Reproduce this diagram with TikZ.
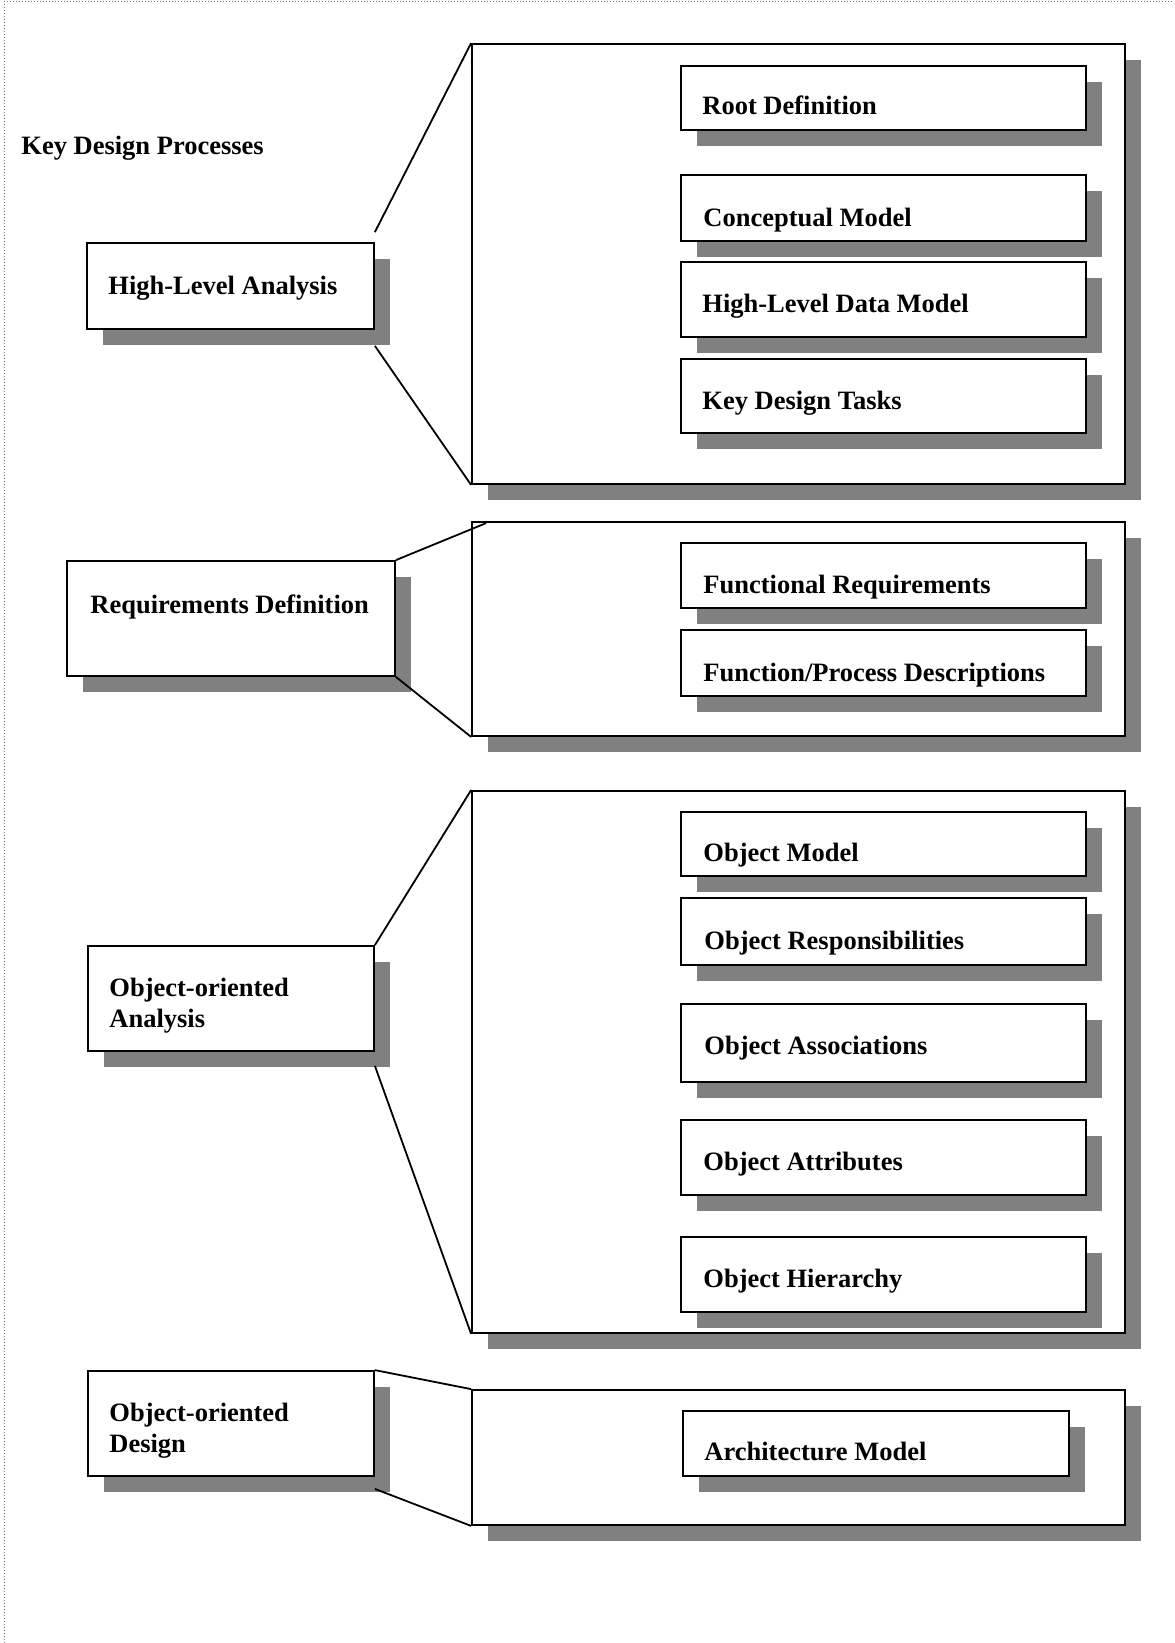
\documentclass[tikz,border=0pt]{standalone}
\usepackage{fontspec}
\setmainfont{Liberation Serif}
\usetikzlibrary{fit}

% a white box with a grey drop shadow: style, name, x1, y1, x2, y2
\newcommand\shadowed[6]{%
  \fill[shade] (#3+16,#4+16) rectangle (#5+16,#6+16);
  \node[#1, fit={(#3,#4) (#5,#6)}] (#2) {};
}
\newcommand\twolines[2]{\begin{tabular}[t]{@{}l@{}}#1\\#2\end{tabular}}

\begin{document}
\begin{tikzpicture}[x=0.5pt,y=-0.5pt,
  label text/.style={anchor=base west, inner sep=0pt,
    font=\fontsize{13.25}{15.5}\selectfont\bfseries},
  panel/.style={draw=black, line width=0.9pt, fill=white, inner sep=0pt},
  card/.style={draw=black, line width=0.9pt, fill=white, inner sep=0pt},
  shade/.style={fill=black!50},
  link/.style={draw=black, line width=0.9pt},
  frame/.style={draw=black!55, line width=0.5pt, densely dotted}]
\useasboundingbox (0,0) rectangle (1174,1643);

% page frame
\draw[frame] (4,1643) -- (4,2) -- (1174,2);

\node[label text] (title) at (21,155) {Key Design Processes};

% ---- High-Level Analysis ----
\shadowed{card}{hla}{87}{243}{374}{329}
\node[label text] (hlat) at (108,294) {High-Level Analysis};

\shadowed{panel}{p1}{472}{44}{1125}{484}
\shadowed{card}{rd}{681}{66}{1086}{130}
\node[label text] (rdt) at (702,115) {Root Definition};
\shadowed{card}{cm}{681}{175}{1086}{241}
\node[label text] (cmt) at (703,226) {Conceptual Model};
\shadowed{card}{hd}{681}{262}{1086}{337}
\node[label text] (hdt) at (702,312) {High-Level Data Model};
\shadowed{card}{kt}{681}{359}{1086}{433}
\node[label text] (ktt) at (702,409) {Key Design Tasks};

\draw[link] ([yshift=5pt]hla.north east) -- (p1.north west);
\draw[link] ([yshift=-8pt]hla.south east) -- (p1.south west);

% ---- Requirements Definition ----
\shadowed{card}{req}{67}{561}{395}{676}
\node[label text] (reqt) at (90,613) {Requirements Definition};

\shadowed{panel}{p2}{472}{522}{1125}{736}
\shadowed{card}{fr}{681}{543}{1086}{608}
\node[label text] (frt) at (703,593) {Functional Requirements};
\shadowed{card}{fp}{681}{630}{1086}{696}
\node[label text] (fpt) at (703,681) {Function/Process Descriptions};

\draw[link] (req.north east) -- ([xshift=7.5pt,yshift=-1pt]p2.north west);
\draw[link] (req.south east) -- (p2.south west);

% ---- Object-oriented Analysis ----
\shadowed{card}{ooa}{88}{946}{374}{1051}
\node[label text] (ooat) at (109,996) {\twolines{Object-oriented}{Analysis}};

\shadowed{panel}{p3}{472}{791}{1125}{1333}
\shadowed{card}{om}{681}{812}{1086}{876}
\node[label text] (omt) at (703,861) {Object Model};
\shadowed{card}{orr}{681}{898}{1086}{965}
\node[label text] (ort) at (704,949) {Object Responsibilities};
\shadowed{card}{oas}{681}{1004}{1086}{1082}
\node[label text] (oast) at (704,1054) {Object Associations};
\shadowed{card}{oat}{681}{1120}{1086}{1195}
\node[label text] (oatt) at (703,1170) {Object Attributes};
\shadowed{card}{oh}{681}{1237}{1086}{1312}
\node[label text] (oht) at (703,1287) {Object Hierarchy};

\draw[link] (ooa.north east) -- (p3.north west);
\draw[link] ([yshift=-7pt]ooa.south east) -- (p3.south west);

% ---- Object-oriented Design ----
\shadowed{card}{ood}{88}{1371}{374}{1476}
\node[label text] (oodt) at (109,1421) {\twolines{Object-oriented}{Design}};

\shadowed{panel}{p4}{472}{1390}{1125}{1525}
\shadowed{card}{am}{683}{1411}{1069}{1476}
\node[label text] (amt) at (704,1460) {Architecture Model};

\draw[link] (ood.north east) -- (p4.north west);
\draw[link] ([yshift=-6pt]ood.south east) -- (p4.south west);
\end{tikzpicture}
\end{document}
